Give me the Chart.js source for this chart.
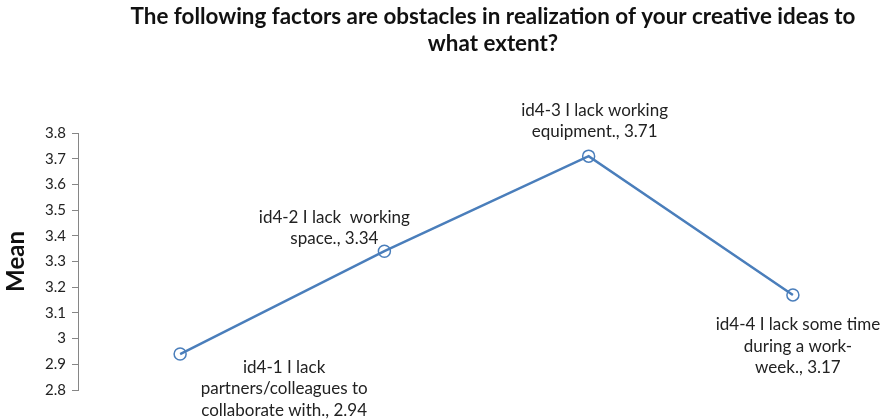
<!DOCTYPE html>
<html>
<head>
<meta charset="utf-8">
<script src="https://cdn.jsdelivr.net/npm/chart.js@4/dist/chart.umd.min.js"></script>
<style>
  html, body { margin: 0; padding: 0; background: #fff; }
  #wrap { width: 884px; height: 420px; position: relative; }
</style>
</head>
<body>
<div id="wrap"><canvas id="c" width="884" height="420"></canvas></div>
<script>
// Survey items (wrapped as they appear in the point labels)
const categoryLines = [
  ["id4-1 I lack", "partners/colleagues to", "collaborate with."],
  ["id4-2 I lack  working", "space."],
  ["id4-3 I lack working", "equipment."],
  ["id4-4 I lack some time", "during a work-", "week."]
];
// Mean score per item
const meanValues = [2.94, 3.34, 3.71, 3.17];
// Y-axis tick range
const yMin = 2.8;
const yMax = 3.8;
const yStep = 0.1;

const titleLines = [
  "The following factors are obstacles in realization of your creative ideas to",
  "what extent?"
];

const FONT = "Lato, 'Open Sans', 'DejaVu Sans', sans-serif";
const LINE_BLUE = "#4a7ebb";

const points = meanValues.map((v, i) => ({ x: i + 1, y: v }));

// Title drawn centred over the plotting region
const titlePlugin = {
  id: 'twoLineTitle',
  afterDraw(chart, args, opts) {
    const ctx = chart.ctx;
    ctx.save();
    ctx.font = "bold 22.4px " + FONT;
    ctx.fillStyle = "#111";
    ctx.textAlign = "center";
    ctx.textBaseline = "middle";
    opts.lines.forEach((t, i) => ctx.fillText(t, opts.cx, opts.top + i * opts.lineHeight));
    ctx.restore();
  }
};

// Point labels: item text plus its mean value
const pointLabelPlugin = {
  id: 'pointLabels',
  afterDatasetsDraw(chart, args, opts) {
    const ctx = chart.ctx;
    const meta = chart.getDatasetMeta(0);
    ctx.save();
    ctx.font = "17px " + FONT;
    ctx.fillStyle = "#222";
    ctx.textAlign = "center";
    ctx.textBaseline = "middle";
    meta.data.forEach((pt, i) => {
      const lines = categoryLines[i].slice();
      lines[lines.length - 1] += ", " + meanValues[i].toFixed(2);
      const off = opts.offsets[i];
      lines.forEach((t, j) => {
        ctx.fillText(t, pt.x + off[0], pt.y + off[1] + j * opts.lineHeight);
      });
    });
    ctx.restore();
  }
};

new Chart(document.getElementById('c'), {
  type: 'line',
  data: {
    datasets: [{
      data: points,
      borderColor: LINE_BLUE,
      borderWidth: 2.5,
      pointRadius: 6,
      pointHoverRadius: 6,
      pointBorderColor: LINE_BLUE,
      pointBackgroundColor: 'rgba(0,0,0,0)',
      pointBorderWidth: 1.5,
      tension: 0
    }]
  },
  options: {
    responsive: false,
    animation: false,
    layout: { autoPadding: false, padding: { top: 133, bottom: 30, left: 0, right: 0 } },
    plugins: {
      legend: { display: false },
      tooltip: { enabled: false },
      twoLineTitle: { lines: titleLines, cx: 493, top: 17, lineHeight: 27 },
      pointLabels: {
        lineHeight: 21.5,
        offsets: [[104, 13], [-50, -34], [6, -46], [5, 30]]
      }
    },
    scales: {
      x: {
        type: 'linear',
        min: 0.5,
        max: 4.446,
        display: false
      },
      y: {
        min: yMin,
        max: yMax,
        afterFit(scale) { scale.width = 78; },
        ticks: {
          stepSize: yStep,
          padding: 6,
          color: "#222",
          font: { family: FONT, size: 15 },
          callback: v => String(parseFloat(v.toFixed(1)))
        },
        grid: {
          drawOnChartArea: false,
          drawTicks: true,
          tickLength: 6,
          color: "#868686"
        },
        border: { display: true, color: "#868686", width: 1 },
        title: {
          display: true,
          text: "Mean",
          color: "#111",
          font: { family: FONT, size: 24, weight: 'bold' },
          padding: { top: 2, bottom: 2 }
        }
      }
    }
  },
  plugins: [titlePlugin, pointLabelPlugin]
});
</script>
</body>
</html>
